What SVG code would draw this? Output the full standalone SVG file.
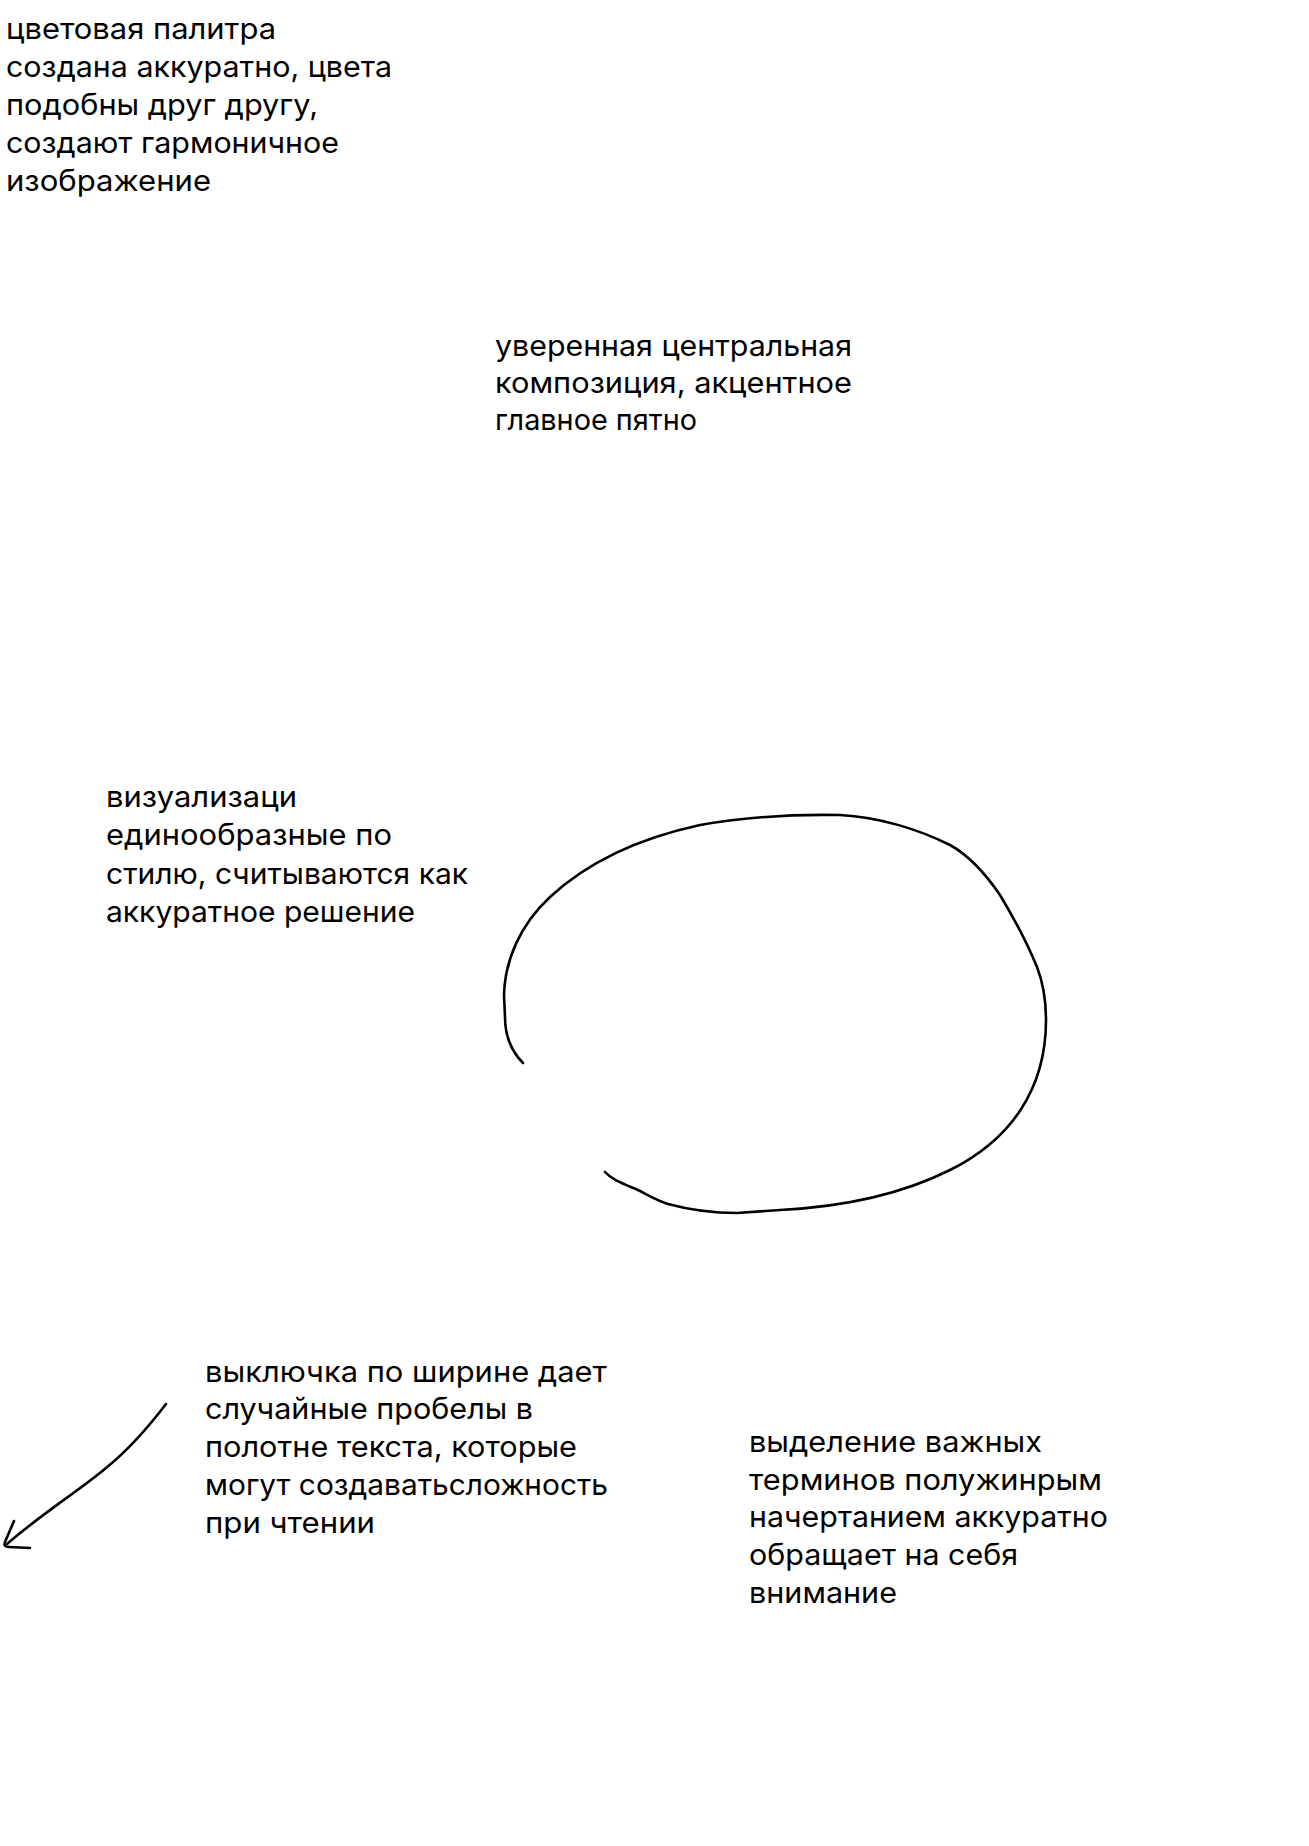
<svg xmlns="http://www.w3.org/2000/svg" width="1309" height="1846" viewBox="0 0 1309 1846">
<style>
  .t { font-family: "Inter", "Noto Sans", "Liberation Sans", sans-serif; font-size: 29.5px; font-weight: 420; fill: #000; }
  .ln { fill: none; stroke: #000; stroke-width: 2.6; stroke-linecap: round; stroke-linejoin: round; }
</style>
<rect width="1309" height="1846" fill="#fff"/>
<g id="note-palette" class="t">
  <text x="6" y="39" textLength="270" lengthAdjust="spacingAndGlyphs">цветовая палитра</text>
  <text x="6" y="77" textLength="386" lengthAdjust="spacingAndGlyphs">создана аккуратно, цвета</text>
  <text x="6" y="115" textLength="312" lengthAdjust="spacingAndGlyphs">подобны друг другу,</text>
  <text x="6" y="153" textLength="333" lengthAdjust="spacingAndGlyphs">создают гармоничное</text>
  <text x="6" y="191" textLength="205" lengthAdjust="spacingAndGlyphs">изображение</text>
</g>
<g id="note-composition" class="t">
  <text x="495" y="356" textLength="357" lengthAdjust="spacingAndGlyphs">уверенная центральная</text>
  <text x="495" y="393" textLength="357" lengthAdjust="spacingAndGlyphs">композиция, акцентное</text>
  <text x="495" y="430" textLength="202" lengthAdjust="spacingAndGlyphs">главное пятно</text>
</g>
<g id="note-visuals" class="t">
  <text x="106" y="807" textLength="191" lengthAdjust="spacingAndGlyphs">визуализаци</text>
  <text x="106" y="845" textLength="286" lengthAdjust="spacingAndGlyphs">единообразные по</text>
  <text x="106" y="884" textLength="362" lengthAdjust="spacingAndGlyphs">стилю, считываются как</text>
  <text x="106" y="922" textLength="309" lengthAdjust="spacingAndGlyphs">аккуратное решение</text>
</g>
<g id="note-justify" class="t">
  <text x="205" y="1382" textLength="402" lengthAdjust="spacingAndGlyphs">выключка по ширине дает</text>
  <text x="205" y="1419" textLength="328" lengthAdjust="spacingAndGlyphs">случайные пробелы в</text>
  <text x="205" y="1457" textLength="372" lengthAdjust="spacingAndGlyphs">полотне текста, которые</text>
  <text x="205" y="1495" textLength="403" lengthAdjust="spacingAndGlyphs">могут создаватьсложность</text>
  <text x="205" y="1533" textLength="170" lengthAdjust="spacingAndGlyphs">при чтении</text>
</g>
<g id="note-bold" class="t">
  <text x="749" y="1452" textLength="293" lengthAdjust="spacingAndGlyphs">выделение важных</text>
  <text x="749" y="1490" textLength="353" lengthAdjust="spacingAndGlyphs">терминов полужинрым</text>
  <text x="749" y="1527" textLength="359" lengthAdjust="spacingAndGlyphs">начертанием аккуратно</text>
  <text x="749" y="1565" textLength="269" lengthAdjust="spacingAndGlyphs">обращает на себя</text>
  <text x="749" y="1603" textLength="148" lengthAdjust="spacingAndGlyphs">внимание</text>
</g>
<g id="connectors">
  <path id="loop" class="ln" d="M523,1063 C512,1052 505,1037 505,1017 L504,995 C505,960 520,925 550,897 C590,860 640,838 700,825 C740,818 790,814 840,815 C880,817 920,830 950,845 C970,856 985,873 1000,895 C1015,920 1028,945 1037,967 C1044,985 1046,1005 1046,1020 C1046,1090 1010,1140 950,1170 C900,1195 840,1207 780,1210 L737,1213 C712,1213 690,1210 668,1204 C656,1200 648,1195 638,1190 C624,1184 612,1180 605,1172"/>
  <path id="arrow" class="ln" d="M166,1404 C150,1425 132,1447 106,1468 C80,1490 40,1515 7,1544"/>
  <path id="arrow-head" class="ln" d="M14,1521 L5,1542 Q3,1547 9,1547 L30,1548"/>
</g>
</svg>
